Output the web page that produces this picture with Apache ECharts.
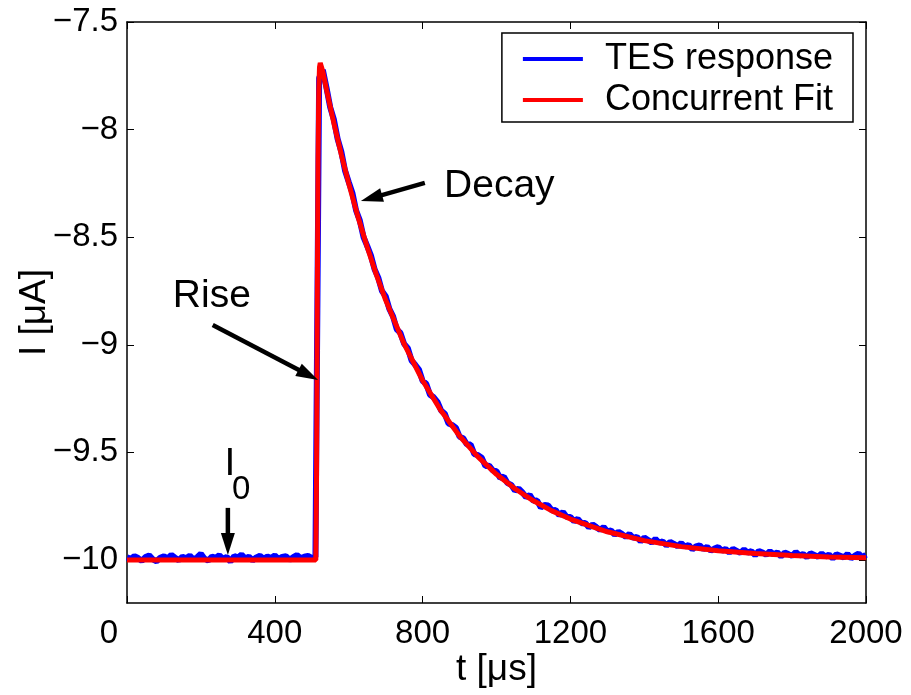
<!DOCTYPE html>
<html>
<head>
<meta charset="utf-8">
<script src="https://cdn.jsdelivr.net/npm/echarts@6/dist/echarts.min.js"></script>
<style>
html,body{margin:0;padding:0;background:#fff;}
#main{width:911px;height:695px;}
</style>
</head>
<body>
<div id="main"></div>
<script>
// ---- data ----
const xTicks = [0, 400, 800, 1200, 1600, 2000];
const yTicks = [-10, -9.5, -9, -8.5, -8, -7.5];
const seriesNames = ['TES response', 'Concurrent Fit'];

// TES response samples: first sample time and spacing (µs), then current values (µA)
const tesStart = 0;
const tesStep = 10;
const tesI = [
-9.988,-9.995,-9.982,-9.991,-10.004,-9.986,-9.979,-9.997,-10.006,-9.990,
-9.983,-9.993,-9.976,-9.989,-10.001,-9.985,-9.992,-9.980,-9.998,-9.987,
-9.971,-9.994,-10.003,-9.984,-9.990,-9.978,-9.996,-9.986,-10.008,-9.982,
-9.989,-9.975,-9.993,-9.985,-10.002,-9.988,-9.980,-9.995,-9.984,-9.991,
-9.979,-9.996,-9.986,-9.983,-9.999,-9.987,-9.977,-9.992,-9.985,-9.981,
-9.990,-9.986,
-7.760,
-7.722,-7.806,-7.897,-7.954,-8.043,-8.102,-8.190,-8.243,-8.294,-8.376,
-8.422,-8.499,-8.540,-8.584,-8.649,-8.688,-8.750,-8.774,-8.833,-8.868,
-8.928,-8.945,-8.996,-9.016,-9.073,-9.093,-9.115,-9.168,-9.182,-9.232,
-9.244,-9.265,-9.305,-9.320,-9.366,-9.373,-9.385,-9.427,-9.434,-9.464,
-9.464,-9.508,-9.513,-9.525,-9.563,-9.562,-9.584,-9.587,-9.619,-9.613,
-9.643,-9.651,-9.678,-9.668,-9.686,-9.708,-9.698,-9.725,-9.724,-9.756,
-9.745,-9.747,-9.770,-9.768,-9.793,-9.777,-9.800,-9.800,-9.820,-9.809,
-9.829,-9.828,-9.849,-9.835,-9.847,-9.860,-9.847,-9.867,-9.863,-9.883,
-9.869,-9.880,-9.893,-9.879,-9.898,-9.892,-9.914,-9.896,-9.907,-9.919,
-9.902,-9.920,-9.914,-9.933,-9.916,-9.925,-9.936,-9.922,-9.938,-9.930,
-9.951,-9.937,-9.932,-9.950,-9.939,-9.957,-9.947,-9.940,-9.957,-9.949,
-9.966,-9.949,-9.958,-9.967,-9.951,-9.966,-9.959,-9.978,-9.958,-9.965,
-9.976,-9.959,-9.974,-9.965,-9.983,-9.966,-9.973,-9.981,-9.963,-9.979,
-9.972,-9.987,-9.969,-9.977,-9.985,-9.970,-9.984,-9.975,-9.993,-9.974,
-9.981,-9.988,-9.972,-9.992,-9.980,-9.970,-9.988,-9.976
];

// Concurrent fit: times (µs) and currents (µA)
const fitT = [0, 100, 200, 300, 400, 511, 513, 515, 517, 519, 521, 523, 526, 530,
  540, 560, 580, 600, 625, 650, 675, 700, 750, 800, 850, 900, 950, 1000, 1050,
  1100, 1150, 1200, 1300, 1400, 1500, 1600, 1700, 1800, 1900, 2000];
const fitI = [-10, -10, -10, -10, -10, -10, -9.6, -8.8, -8.15, -7.82, -7.71, -7.69, -7.69, -7.73,
  -7.815, -7.971, -8.116, -8.250, -8.405, -8.546, -8.675, -8.792, -8.996, -9.166, -9.307, -9.424, -9.521, -9.602, -9.669,
  -9.725, -9.772, -9.810, -9.869, -9.910, -9.938, -9.957, -9.970, -9.979, -9.986, -9.990];

// ---- annotations (data coordinates) ----
const labels = [
  {text: 'Decay', t: 858, i: -8.262, size: 39},
  {text: 'Rise', t: 124, i: -8.773, size: 39},
  {text: 'I', t: 264, i: -9.554, size: 39},
  {text: '0', t: 284, i: -9.675, size: 33}
];
const arrows = [
  {from: [806, -8.248], to: [633, -8.332]},
  {from: [232, -8.908], to: [517, -9.164]},
  {from: [273, -9.758], to: [273, -9.977]}
];

const FONT = '"Liberation Sans", Arial, Helvetica, sans-serif';
const minusFmt = v => String(v).replace('-', '\u2212');
const xFmt = v => (v === 0 ? '{z|0}' : String(v));

const tesData = tesI.map((v, k) => [tesStart + k * tesStep, v]);
const fitData = fitT.map((t, k) => [t, fitI[k]]);

const chart = echarts.init(document.getElementById('main'), null, {renderer: 'canvas'});
const mkTick = extra => Object.assign({show: true, inside: true, length: 7, lineStyle: {color: '#000', width: 1}}, extra || {});
const mkLine = () => ({show: true, onZero: false, lineStyle: {color: '#000', width: 1.5}});
chart.setOption({
  animation: false,
  backgroundColor: '#fff',
  textStyle: {fontFamily: FONT},
  grid: {left: 127, right: 45, top: 22, bottom: 92, containLabel: false},
  legend: {
    data: seriesNames,
    orient: 'vertical',
    right: 58, top: 33,
    padding: [8, 20, 4, 21],
    itemGap: 5,
    itemWidth: 60, itemHeight: 4,
    icon: 'rect',
    backgroundColor: '#fff',
    borderColor: '#000', borderWidth: 1.5,
    textStyle: {fontFamily: FONT, fontSize: 36, color: '#000', lineHeight: 36, padding: [0, 0, 0, 17]}
  },
  xAxis: [
    {
      type: 'value', min: 0, max: 2000, interval: 400, position: 'bottom',
      name: 't [\u03bcs]', nameLocation: 'middle', nameGap: 48, nameMoveOverlap: false,
      nameTextStyle: {fontFamily: FONT, fontSize: 37, color: '#000'},
      axisLine: mkLine(), splitLine: {show: false},
      axisTick: mkTick(),
      axisLabel: {fontFamily: FONT, fontSize: 33, color: '#000', margin: 14, customValues: xTicks,
        formatter: xFmt, rich: {z: {fontFamily: FONT, fontSize: 33, color: '#000', padding: [0, 36, 0, 0]}}}
    },
    {
      type: 'value', min: 0, max: 2000, interval: 400, position: 'top',
      axisLine: mkLine(), splitLine: {show: false},
      axisTick: mkTick(),
      axisLabel: {show: false}
    }
  ],
  yAxis: [
    {
      type: 'value', min: -10.2, max: -7.5, position: 'left',
      name: 'I [\u03bcA]', nameLocation: 'middle', nameGap: 74, nameMoveOverlap: false,
      nameTextStyle: {fontFamily: FONT, fontSize: 37, color: '#000'},
      axisLine: mkLine(), splitLine: {show: false},
      axisTick: mkTick({customValues: yTicks}),
      axisLabel: {fontFamily: FONT, fontSize: 33, color: '#000', margin: 9, customValues: yTicks, formatter: minusFmt}
    },
    {
      type: 'value', min: -10.2, max: -7.5, position: 'right',
      axisLine: mkLine(), splitLine: {show: false},
      axisTick: mkTick({customValues: yTicks}),
      axisLabel: {show: false}
    }
  ],
  series: [
    {
      name: seriesNames[0], type: 'line', data: tesData, xAxisIndex: 0, yAxisIndex: 0,
      showSymbol: false, symbol: 'none', color: '#0000ff',
      lineStyle: {color: '#0000ff', width: 6}, z: 2
    },
    {
      name: seriesNames[1], type: 'line', data: fitData, xAxisIndex: 0, yAxisIndex: 0,
      showSymbol: false, symbol: 'none', color: '#ff0000',
      lineStyle: {color: '#ff0000', width: 5}, z: 3
    }
  ]
});

// annotations placed through the axes' own scales
const els = [];
labels.forEach(l => {
  const p = chart.convertToPixel({gridIndex: 0}, [l.t, l.i]);
  els.push({
    type: 'text', x: p[0], y: p[1], z: 10,
    style: {text: l.text, fontFamily: FONT, fontSize: l.size, fill: '#000', align: 'left', verticalAlign: 'middle'}
  });
});
arrows.forEach(a => {
  const p0 = chart.convertToPixel({gridIndex: 0}, a.from);
  const p1 = chart.convertToPixel({gridIndex: 0}, a.to);
  const dx = p1[0] - p0[0], dy = p1[1] - p0[1];
  const len = Math.sqrt(dx * dx + dy * dy);
  const ux = dx / len, uy = dy / len;
  const headL = 22, headW = 7;
  const bx = p1[0] - ux * headL, by = p1[1] - uy * headL;
  els.push({
    type: 'line', z: 10,
    shape: {x1: p0[0], y1: p0[1], x2: bx + ux * 2, y2: by + uy * 2},
    style: {stroke: '#000', lineWidth: 4.5}
  });
  els.push({
    type: 'polygon', z: 10,
    shape: {points: [[p1[0], p1[1]], [bx - uy * headW, by + ux * headW], [bx + uy * headW, by - ux * headW]]},
    style: {fill: '#000'}
  });
});
chart.setOption({graphic: els});
</script>
</body>
</html>
